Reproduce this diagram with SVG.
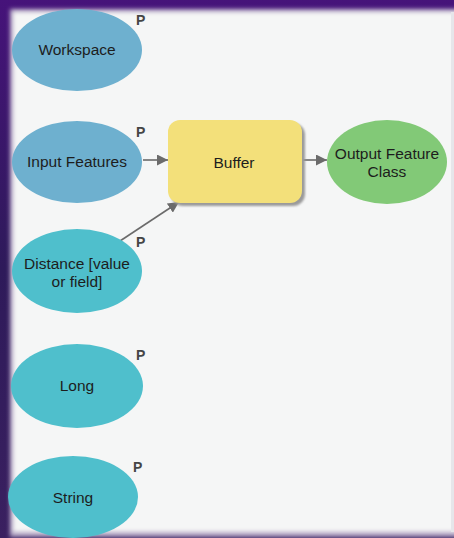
<svg xmlns="http://www.w3.org/2000/svg" width="454" height="538" viewBox="0 0 454 538">
  <defs>
    <filter id="soft" x="-5%" y="-5%" width="110%" height="110%">
      <feGaussianBlur stdDeviation="2"/>
    </filter>
    <filter id="shadow" x="-10%" y="-10%" width="130%" height="130%">
      <feGaussianBlur stdDeviation="1.2"/>
    </filter>
    <marker id="arrow" viewBox="0 0 10 10" refX="10" refY="5" markerWidth="11" markerHeight="11" markerUnits="userSpaceOnUse" orient="auto">
      <path d="M0,0 L10,5 L0,10 z" fill="#6b6b6b"/>
    </marker>
    <linearGradient id="frame" x1="0" y1="0" x2="0" y2="1">
      <stop offset="0" stop-color="#46137a"/>
      <stop offset="0.5" stop-color="#2e1a5a"/>
      <stop offset="1" stop-color="#3a2060"/>
    </linearGradient>
  </defs>
  <style>
    .lbl { font-family: "Liberation Sans", Arial, sans-serif; font-size: 15.5px; fill: #1d1d1d; text-anchor: middle; }
    .p { font-family: "Liberation Sans", Arial, sans-serif; font-size: 14px; font-weight: bold; fill: #454545; }
    .blue { fill: #6eb0cf; }
    .teal { fill: #4fbfcc; }
    .conn { stroke: #6b6b6b; stroke-width: 1.6; fill: none; marker-end: url(#arrow); }
  </style>
  <rect x="0" y="0" width="454" height="538" fill="url(#frame)"/>
  <rect x="10" y="9" width="450" height="528" fill="#b3a6c4" filter="url(#soft)"/>
  <rect x="13" y="12" width="447" height="520" fill="#f5f6f6" filter="url(#soft)"/>
  <rect x="451" y="12" width="3" height="520" fill="#e6e6ea"/>

  <g id="connectors">
    <line class="conn" x1="143" y1="160" x2="168" y2="160"/>
    <line class="conn" x1="120" y1="241" x2="179" y2="202"/>
    <line class="conn" x1="302" y1="160" x2="327" y2="160"/>
  </g>

  <g id="workspace">
    <ellipse class="blue" cx="77" cy="50" rx="65" ry="41"/>
    <text class="lbl" x="77" y="55">Workspace</text>
    <text class="p" x="136" y="25">P</text>
  </g>
  <g id="input-features">
    <ellipse class="blue" cx="77" cy="162" rx="65" ry="41"/>
    <text class="lbl" x="77" y="167">Input Features</text>
    <text class="p" x="136" y="137">P</text>
  </g>
  <g id="distance">
    <ellipse class="teal" cx="77" cy="271" rx="65" ry="42"/>
    <text class="lbl" x="77" y="269">Distance [value</text>
    <text class="lbl" x="77" y="287">or field]</text>
    <text class="p" x="136" y="247">P</text>
  </g>
  <g id="long">
    <ellipse class="teal" cx="77" cy="386" rx="66" ry="42"/>
    <text class="lbl" x="77" y="391">Long</text>
    <text class="p" x="136" y="360">P</text>
  </g>
  <g id="string">
    <ellipse class="teal" cx="73" cy="497" rx="65" ry="41"/>
    <text class="lbl" x="73" y="503">String</text>
    <text class="p" x="133" y="472">P</text>
  </g>
  <g id="buffer">
    <rect x="171" y="123" width="134" height="83" rx="12" fill="#9a9a9a" filter="url(#shadow)"/>
    <rect x="168" y="120" width="134" height="83" rx="12" fill="#f3e07a"/>
    <text class="lbl" x="234" y="168">Buffer</text>
  </g>
  <g id="output-feature-class">
    <ellipse cx="387" cy="162" rx="60" ry="42" fill="#82c977"/>
    <text class="lbl" x="387" y="159">Output Feature</text>
    <text class="lbl" x="387" y="177">Class</text>
  </g>
</svg>
